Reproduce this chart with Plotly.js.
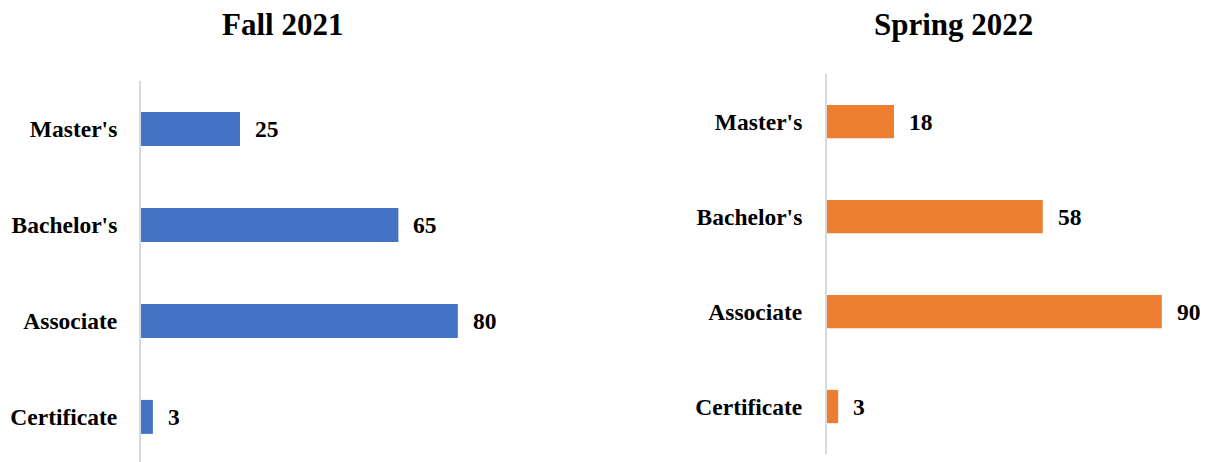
<!DOCTYPE html>
<html>
<head>
<meta charset="utf-8">
<script src="https://cdn.plot.ly/plotly-3.0.1.min.js"></script>
<style>html,body{margin:0;padding:0;background:#fff;}#chart{width:1208px;height:462px;}</style>
</head>
<body>
<div id="chart"></div>
<script>
const categories = ["Certificate", "Associate", "Bachelor's", "Master's"];
const fall2021 = [3, 80, 65, 25];
const spring2022 = [3, 90, 58, 18];
const titles = ["Fall 2021", "Spring 2022"];

const FONT = "'Liberation Serif', 'Times New Roman', serif";
const H = 462, W = 1208;

const traces = [
  {type:'bar', orientation:'h', y:categories, x:fall2021, xaxis:'x', yaxis:'y',
   marker:{color:'#4472C4'}, width:0.354, hoverinfo:'none'},
  {type:'bar', orientation:'h', y:categories, x:spring2022, xaxis:'x2', yaxis:'y2',
   marker:{color:'#ED7D31'}, width:0.35, hoverinfo:'none'}
];

const annotations = [];
fall2021.forEach((v,i)=>annotations.push({xref:'x', yref:'y', x:v, y:categories[i], text:String(v),
  showarrow:false, xanchor:'left', yanchor:'middle', xshift:13,
  font:{family:FONT, size:23.5, color:'#000', weight:'bold'}}));
spring2022.forEach((v,i)=>annotations.push({xref:'x2', yref:'y2', x:v, y:categories[i], text:String(v),
  showarrow:false, xanchor:'left', yanchor:'middle', xshift:13,
  font:{family:FONT, size:23.5, color:'#000', weight:'bold'}}));
annotations.push({xref:'paper', yref:'paper', x:282/W, y:1-24/H, text:titles[0], showarrow:false,
  xanchor:'center', yanchor:'middle', font:{family:FONT, size:31, color:'#000', weight:'bold'}});
annotations.push({xref:'paper', yref:'paper', x:953/W, y:1-24/H, text:titles[1], showarrow:false,
  xanchor:'center', yanchor:'middle', font:{family:FONT, size:31, color:'#000', weight:'bold'}});

const yCommon = {type:'category', showgrid:false, zeroline:false, showline:true, linecolor:'#d9d9d9', linewidth:2,
  ticks:'outside', ticklen:17, tickcolor:'rgba(0,0,0,0)', fixedrange:true,
  tickfont:{family:FONT, size:23.5, color:'#000', weight:'bold'}};
const xCommon = {range:[0,100], visible:false, showgrid:false, zeroline:false, fixedrange:true};

const layout = {
  width:W, height:H, margin:{l:0,r:0,t:0,b:0}, showlegend:false,
  paper_bgcolor:'#fff', plot_bgcolor:'rgba(0,0,0,0)',
  xaxis: Object.assign({}, xCommon, {domain:[141/W, 537/W], anchor:'y'}),
  yaxis: Object.assign({}, yCommon, {domain:[0, (H-81)/H], range:[-0.47, 3.5], anchor:'x'}),
  xaxis2: Object.assign({}, xCommon, {domain:[827/W, 1199/W], anchor:'y2'}),
  yaxis2: Object.assign({}, yCommon, {domain:[(H-454)/H, (H-74)/H], range:[-0.5, 3.5], anchor:'x2', ticklen:18}),
  annotations: annotations
};

Plotly.newPlot('chart', traces, layout, {displayModeBar:false, staticPlot:true});
</script>
</body>
</html>
